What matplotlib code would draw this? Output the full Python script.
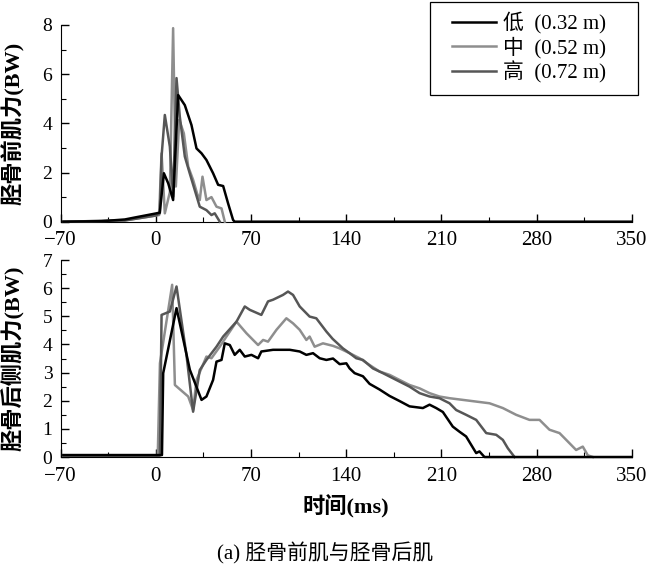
import numpy as np
import matplotlib
matplotlib.use('Agg')
import matplotlib.pyplot as plt
from matplotlib.ticker import MultipleLocator
from matplotlib.lines import Line2D
from matplotlib.patches import Rectangle

plt.rcParams['font.family'] = ['Liberation Serif', 'Noto Sans CJK SC']
plt.rcParams['axes.unicode_minus'] = True

labels = ['低  (0.32 m)', '中  (0.52 m)', '高  (0.72 m)']
colors = ['#000000', '#8e8e8e', '#565656']

# 胫骨前肌 (top)
front_low_t = [-68, -40, -22.8, -15.5, 0.5, 2.9, 5.9, 9.1, 12.7, 16.4, 21.3, 26.2, 29.9,
               33.6, 37.2, 42.1, 45.8, 49.5, 53.1, 56.8, 58, 350]
front_low_f = [0.0, 0.02, 0.09, 0.17, 0.34, 0.37, 1.97, 1.56, 0.88, 5.15, 4.74, 3.93, 2.98,
               2.78, 2.51, 1.97, 1.5, 1.45, 0.75, 0.07, 0.0, 0.0]
front_mid_t = [-68, -22.8, 0, 2.4, 4.2, 6.6, 10.3, 12.7, 14.7, 17.2, 20.6, 23.8, 27.4,
               30.3, 32.3, 34.3, 37.2, 40.9, 44.6, 48.3, 50.7]
front_mid_f = [0.0, 0.05, 0.25, 0.27, 2.78, 0.34, 1.2, 7.87, 1.43, 4.14, 3.59, 2.24, 1.7,
               1.15, 0.88, 1.83, 0.88, 1.0, 0.61, 0.54, 0.0]
front_high_t = [-68, -22.8, 0, 2.9, 4.2, 6.6, 10.3, 12.7, 15.2, 17.6, 21.3, 24.9, 28.6,
                32.3, 37.2, 40.9, 43.3, 47]
front_high_f = [0.0, 0.05, 0.25, 0.34, 2.65, 4.34, 3.05, 1.02, 5.84, 4.28, 2.65, 1.97, 1.29,
                0.61, 0.47, 0.27, 0.34, 0.0]

# 胫骨后侧肌 (bottom)
back_low_t = [-68, 4.5, 5.4, 15.2, 25, 33.6, 37.2, 42.1, 44.6, 48.3, 50.7, 54.4, 58, 61.7,
              65.4, 70.3, 75.2, 77.6, 86.2, 98.5, 105.8, 110.7, 115.6, 120.5, 125.4, 130.3,
              135.2, 140.1, 142.5, 146.2, 152.3, 157.2, 164.5, 171.9, 179.2, 186.6, 196.4,
              201.3, 206.2, 211.1, 218.4, 223.3, 228.2, 235.6, 238, 241.7, 350]
back_low_f = [0.07, 0.07, 2.98, 5.29, 3.1, 2.03, 2.15, 2.74, 3.39, 3.45, 4.04, 3.98, 3.63,
              3.81, 3.57, 3.63, 3.51, 3.75, 3.81, 3.81, 3.75, 3.63, 3.69, 3.51, 3.45, 3.5,
              3.3, 3.33, 3.15, 2.98, 2.87, 2.6, 2.4, 2.17, 1.99, 1.8, 1.74, 1.86, 1.74, 1.6,
              1.08, 0.9, 0.73, 0.14, 0.2, 0.0, 0.0]
back_mid_t = [-68, 1.4, 3.0, 12.0, 14.0, 23.8, 27.4, 29.9, 37.2, 40.9, 47.0, 51.9, 59.3, 66.6,
              71.5, 75.2, 78.9, 82.5, 88.7, 96.0, 100.9, 105.8, 110.7, 113.1, 116.8, 122.9,
              130.3, 135.2, 142.5, 149.9, 157.2, 164.5, 171.9, 179.2, 186.6, 194, 201.3,
              208.6, 216, 225.8, 235.6, 245.4, 255.2, 265, 274.8, 282.2, 289.5, 296.9, 301.8,
              309.1, 314, 317.7, 321.4]
back_mid_f = [0.05, 0.05, 3.33, 6.12, 2.56, 2.15, 1.67, 2.74, 3.57, 3.51, 3.92, 4.28, 4.81, 4.4,
              4.16, 3.98, 4.16, 4.1, 4.52, 4.93, 4.75, 4.52, 4.16, 4.28, 3.92, 4.04, 3.95,
              3.86, 3.69, 3.51, 3.27, 3.04, 2.92, 2.74, 2.56, 2.44, 2.27, 2.15, 2.09, 2.03,
              1.97, 1.91, 1.74, 1.5, 1.32, 1.32, 0.97, 0.85, 0.61, 0.25, 0.37, 0.06, 0.0]
back_high_t = [-68, 3.0, 4.2, 10.3, 15.2, 22.5, 27.4, 32.3, 37.2, 44.6, 49.5, 59.3, 65.4, 69.1,
               77.6, 82.5, 86.2, 93.5, 97.2, 100.9, 105.8, 113.1, 118, 125.4, 130, 137.6,
               142.5, 147.4, 152.3, 159.6, 167, 176.8, 186.6, 194, 201.3, 208.6, 216, 220.9,
               228.2, 235.6, 243, 250.3, 255.2, 258.9, 263.8]
back_high_f = [0.05, 0.05, 5.05, 5.17, 6.06, 3.63, 1.61, 3.09, 3.45, 3.92, 4.28, 4.81, 5.35,
               5.23, 5.05, 5.53, 5.59, 5.76, 5.88, 5.76, 5.35, 4.99, 4.93, 4.46, 4.2, 3.86,
               3.69, 3.51, 3.45, 3.15, 2.98, 2.74, 2.5, 2.27, 2.15, 2.09, 1.91, 1.67, 1.5,
               1.32, 0.85, 0.79, 0.61, 0.31, 0.0]

W, H = 651, 569
fig = plt.figure(figsize=(W / 100, H / 100), dpi=100)
ax1 = fig.add_axes([0.0932, 0.6104, 0.8772, 0.3457])
ax2 = fig.add_axes([0.0932, 0.1968, 0.8772, 0.3462])

top = [(front_low_t, front_low_f), (front_mid_t, front_mid_f), (front_high_t, front_high_f)]
bot = [(back_low_t, back_low_f), (back_mid_t, back_mid_f), (back_high_t, back_high_f)]

for i in [1, 2, 0]:
    ax1.plot(top[i][0], top[i][1], color=colors[i], lw=1.8, clip_on=False, zorder=3 + (i == 0))
    ax2.plot(bot[i][0], bot[i][1], color=colors[i], lw=1.8, clip_on=False, zorder=3 + (i == 0))

for ax, ymax, ymaj, ymin in [(ax1, 8, 2, 1), (ax2, 7, 1, 0.5)]:
    ax.set_xlim(-70, 350)
    ax.set_ylim(0, ymax)
    ax.spines['top'].set_visible(False)
    ax.spines['right'].set_visible(False)
    ax.xaxis.set_major_locator(MultipleLocator(70))
    ax.xaxis.set_minor_locator(MultipleLocator(35))
    ax.yaxis.set_major_locator(MultipleLocator(ymaj))
    ax.yaxis.set_minor_locator(MultipleLocator(ymin))
    ax.tick_params(which='both', direction='in', top=False, right=False)
    ax.tick_params(which='major', length=6, width=1)
    ax.tick_params(which='minor', length=3.5, width=0.8)
    ax.tick_params(axis='y', labelsize=14, pad=6)
    ax.tick_params(axis='x', labelsize=15, pad=7)

ax1.set_ylabel('胫骨前肌力(BW)', fontsize=16, fontweight='bold')
ax2.set_ylabel('胫骨后侧肌力(BW)', fontsize=16, fontweight='bold')
ax1.yaxis.set_label_coords(-0.063, 0.5)
ax2.yaxis.set_label_coords(-0.063, 0.5)
ax2.set_xlabel('时间(ms)', fontsize=16, fontweight='bold', labelpad=7)

# legend: entries without frame, box drawn separately
handles = [Line2D([], [], color=c, lw=1.8) for c in colors]
leg = ax1.legend(handles, labels, loc='upper left', bbox_to_anchor=(452 / W, 1 - 12 / H),
                 bbox_transform=fig.transFigure, fontsize=15, frameon=False,
                 borderaxespad=0, borderpad=0, handlelength=2.1,
                 handletextpad=0.35, labelspacing=0.13)
fig.patches.append(Rectangle((430 / W, 1 - 95 / H), 208 / W, 93 / H, transform=fig.transFigure,
                             fill=False, edgecolor='black', lw=0.9))

fig.text(0.5, 0.028, '(a) 胫骨前肌与胫骨后肌', ha='center', va='center', fontsize=15)

fig.savefig('out.png', dpi=100)
